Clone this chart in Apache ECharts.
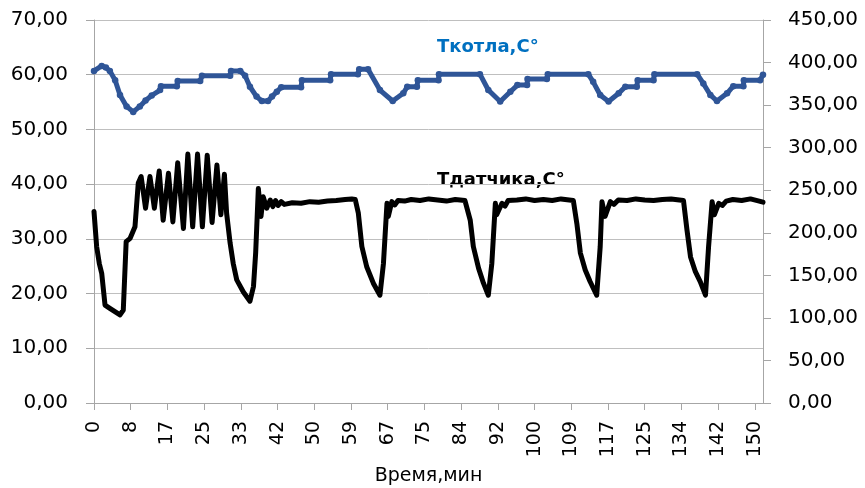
<!DOCTYPE html>
<html>
<head>
<meta charset="utf-8">
<script src="https://cdn.jsdelivr.net/npm/echarts@6/dist/echarts.min.js"></script>
<style>html,body{margin:0;padding:0;background:#fff}#c{width:865px;height:488px}</style>
</head>
<body>
<div id="c"></div>
<script>
// X tick labels (minutes)
const xTickLabels = ['0','8','17','25','33','42','50','59','67','75','84','92','100','109','117','125','134','142','150'];
const xMax = 151.85;
// Ткотла series (time in min, value in °C)
const kotlaTime = [0.0,1.75,2.7,3.6,4.8,5.9,7.4,8.9,10.4,11.7,13.1,15.0,15.2,18.8,19.0,24.1,24.5,30.9,31.1,33.2,34.3,35.4,36.9,38.1,39.5,40.4,41.5,42.5,47.0,47.2,53.6,53.8,59.9,60.2,62.2,64.9,67.8,70.2,71.1,73.3,73.5,78.2,78.3,87.6,89.5,92.2,94.5,96.1,98.3,98.4,102.8,103.0,112.2,113.3,114.9,116.8,119.1,120.6,123.2,123.4,127.0,127.2,136.9,138.3,139.9,141.4,143.7,145.1,147.4,147.5,151.2,151.85];
const kotlaVal  = [60.7,61.6,61.3,60.7,59.0,56.3,54.2,53.2,54.2,55.3,56.2,57.2,57.9,57.9,58.85,58.85,59.8,59.8,60.7,60.7,59.8,57.8,56.0,55.2,55.2,56.0,56.9,57.7,57.7,59.0,59.0,60.1,60.1,61.0,61.0,57.2,55.2,56.6,57.8,57.8,59.0,59.0,60.1,60.1,57.2,55.1,56.9,58.1,58.1,59.2,59.2,60.1,60.1,58.7,56.3,55.1,56.6,57.8,57.8,59.0,59.0,60.1,60.1,58.4,56.3,55.2,56.6,57.9,57.9,59.0,59.0,60.0];
// Тдатчика series
const datTime = [0.0,0.6,1.2,1.75,2.5,3.6,5.9,6.65,7.3,8.2,9.3,10.05,10.7,11.7,12.7,13.7,14.8,15.7,16.9,17.9,19.0,20.3,21.3,22.4,23.5,24.6,25.7,26.8,27.9,28.8,29.6,30.1,30.9,31.6,32.4,33.9,35.4,36.2,36.7,37.3,37.9,38.4,39.2,40.0,40.6,41.2,41.8,42.5,43.2,45.0,47.0,49.0,51.0,53.0,55.0,57.0,58.5,59.3,60.0,60.8,61.9,63.4,64.9,65.7,66.5,66.8,67.6,68.3,69.0,70.5,72.0,74.0,76.0,78.0,80.0,82.0,84.2,85.4,86.1,87.3,88.4,89.5,90.3,91.1,91.4,92.6,93.3,94.0,96.0,98.0,100.0,102.0,104.0,106.0,108.8,109.6,110.4,111.5,112.6,114.1,114.9,115.3,116.0,117.2,118.0,119.0,121.0,123.0,125.0,127.0,129.0,131.0,133.8,134.6,135.4,136.5,137.6,138.8,139.5,140.3,140.8,141.8,142.6,143.5,145.0,147.0,149.0,151.0,151.85];
const datVal  = [35.0,28.6,25.5,23.7,17.9,17.3,16.1,17.0,29.5,30.1,32.2,40.2,41.4,35.6,41.4,35.6,42.4,33.4,42.0,33.1,43.9,31.9,45.5,32.2,45.5,32.2,45.3,33.0,43.5,34.4,41.8,34.7,29.2,25.5,22.5,20.3,18.6,21.3,27.5,39.2,34.1,37.7,35.6,37.1,35.9,37.0,36.1,36.8,36.3,36.6,36.5,36.8,36.7,36.9,37.0,37.2,37.3,37.2,34.7,28.6,24.9,21.9,19.7,25.5,36.5,34.1,36.8,36.2,37.0,36.9,37.2,37.0,37.3,37.1,36.9,37.2,37.0,33.4,28.6,24.6,21.9,19.7,25.5,36.5,34.4,36.5,36.0,37.0,37.1,37.3,37.0,37.2,37.0,37.3,37.0,32.8,27.4,24.3,22.2,19.7,28.6,36.8,34.1,36.8,36.3,37.1,37.0,37.3,37.1,37.0,37.2,37.3,37.0,31.6,26.7,24.0,22.2,19.7,28.6,36.8,34.4,36.5,36.1,36.9,37.2,37.0,37.3,36.9,36.7];

const fmt = v => v.toFixed(2).replace('.', ',');
const xStep = 150 / 18;
const font = '"DejaVu Sans", sans-serif';
const axisGray = '#A6A6A6';

const chart = echarts.init(document.getElementById('c'), null, {renderer: 'canvas'});
chart.setOption({
  animation: false,
  backgroundColor: '#ffffff',
  grid: {left: 94, right: 102, top: 20, bottom: 85, containLabel: false, outerBoundsMode: 'none'},
  xAxis: {
    type: 'value', min: 0, max: xMax, interval: xStep,
    name: 'Время,мин', nameLocation: 'middle', nameGap: 64,
    nameTextStyle: {fontFamily: font, fontSize: 19, color: '#000'},
    axisLine: {show: true, lineStyle: {color: axisGray, width: 1}},
    axisTick: {show: true, length: 7, lineStyle: {color: axisGray}},
    splitLine: {show: false},
    axisLabel: {
      rotate: 90, margin: 18, fontFamily: font, fontSize: 19, color: '#000',
      showMaxLabel: false,
      formatter: v => { const i = Math.round(v / xStep); return (Math.abs(v - i * xStep) < 0.01 && xTickLabels[i] !== undefined) ? xTickLabels[i] : ''; }
    }
  },
  yAxis: [{
    type: 'value', min: 0, max: 70, interval: 10, position: 'left',
    axisLine: {show: true, lineStyle: {color: axisGray, width: 1}},
    axisTick: {show: true, length: 8, lineStyle: {color: axisGray}},
    splitLine: {show: true, lineStyle: {color: '#BFBFBF', width: 1}},
    axisLabel: {margin: 26, fontFamily: font, fontSize: 20, color: '#000', formatter: fmt}
  }, {
    type: 'value', min: 0, max: 450, interval: 50, position: 'right',
    axisLine: {show: true, lineStyle: {color: axisGray, width: 1}},
    axisTick: {show: true, length: 8, lineStyle: {color: axisGray}},
    splitLine: {show: false},
    axisLabel: {margin: 25, fontFamily: font, fontSize: 20, color: '#000', formatter: fmt}
  }],
  series: [{
    name: 'Ткотла,С°', type: 'line', yAxisIndex: 0,
    data: kotlaTime.map((t, i) => [t, kotlaVal[i]]),
    lineStyle: {color: '#2F5597', width: 5, join: 'round'},
    itemStyle: {color: '#2F5597', borderWidth: 0},
    symbol: 'circle', symbolSize: 6.5, showAllSymbol: true
  }, {
    name: 'Тдатчика,С°', type: 'line', yAxisIndex: 0,
    data: datTime.map((t, i) => [t, datVal[i]]),
    lineStyle: {color: '#000000', width: 5, join: 'round', cap: 'round'},
    itemStyle: {color: '#000'},
    symbol: 'none'
  }],
  graphic: [{
    type: 'text', left: 437, top: 38,
    style: {text: 'Ткотла,С°', font: 'bold 18px ' + font, fill: '#0070C0'}
  }, {
    type: 'text', left: 437, top: 171,
    style: {text: 'Тдатчика,С°', font: 'bold 18px ' + font, fill: '#000000'}
  }]
});
</script>
</body>
</html>
